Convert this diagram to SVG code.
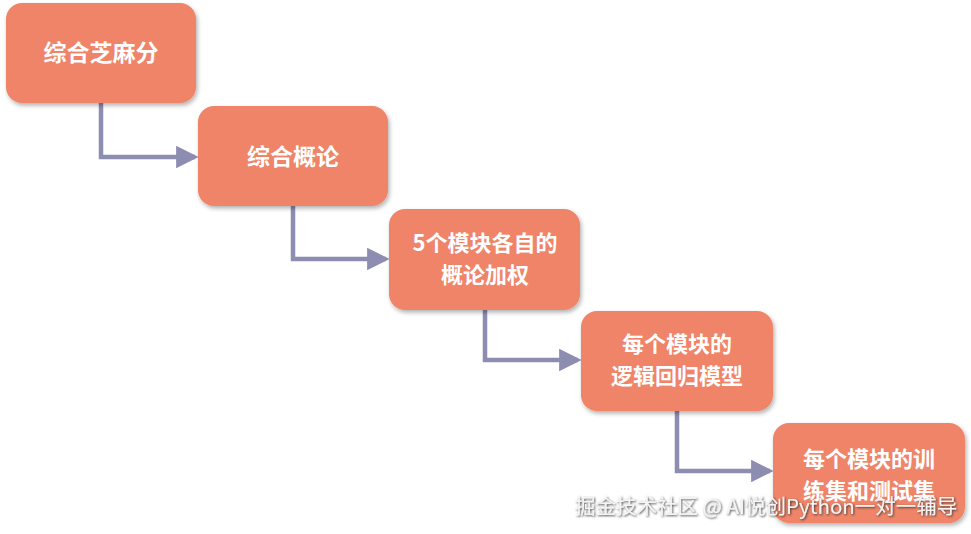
<svg xmlns="http://www.w3.org/2000/svg" width="971" height="534" viewBox="0 0 971 534">
<defs>
<filter id="sh" x="-10%" y="-10%" width="125%" height="130%">
<feDropShadow dx="1.5" dy="2.5" stdDeviation="2" flood-color="#000" flood-opacity="0.3"/>
</filter>
<filter id="tsh" x="-5%" y="-20%" width="110%" height="150%">
<feDropShadow dx="1" dy="1" stdDeviation="0.8" flood-color="#333" flood-opacity="0.9"/>
</filter>
<marker id="arr" markerWidth="5" markerHeight="5" refX="4.2" refY="2.5" orient="auto" markerUnits="strokeWidth">
<path d="M0,0 L5,2.5 L0,5 Z" fill="#8c8db0"/>
</marker>
</defs>
<style>
.box{fill:#ef8467;filter:url(#sh)}
.lbl{fill:#fff;font-family:"Noto Sans CJK SC","Noto Sans",sans-serif;font-size:23px;font-weight:bold;text-anchor:middle}
.l2{font-size:22px}
.con{fill:none;stroke:#8c8db0;stroke-width:4.5;marker-end:url(#arr)}
.wm{fill:#f4f4f4;font-family:"Noto Sans CJK SC","Noto Sans",sans-serif;font-size:20.5px;filter:url(#tsh)}
</style>
<rect width="971" height="534" fill="#fff"/>
<g id="connectors">
<path class="con" d="M101,103 V157 H195"/>
<path class="con" d="M293,206 V259 H386"/>
<path class="con" d="M485,310 V360 H578"/>
<path class="con" d="M677,410 V471 H770"/>
</g>
<g id="n1"><rect class="box" x="6" y="3" width="190" height="100" rx="16"/><text class="lbl" x="101" y="61">综合芝麻分</text></g>
<g id="n2"><rect class="box" x="198" y="106" width="190" height="100" rx="16"/><text class="lbl" x="293" y="165">综合概论</text></g>
<g id="n3"><rect class="box" x="389" y="209" width="191" height="101" rx="16"/><text class="lbl l2"><tspan x="485" y="251">5个模块各自的</tspan><tspan x="485" y="283">概论加权</tspan></text></g>
<g id="n4"><rect class="box" x="581" y="311" width="192" height="100" rx="16"/><text class="lbl l2"><tspan x="677" y="352">每个模块的</tspan><tspan x="677" y="384">逻辑回归模型</tspan></text></g>
<g id="n5"><rect class="box" x="773" y="423" width="192" height="100" rx="16"/><text class="lbl l2"><tspan x="869" y="467">每个模块的训</tspan><tspan x="869" y="499">练集和测试集</tspan></text></g>
<text class="wm" x="575" y="514">掘金技术社区 @ AI悦创Python一对一辅导</text>
</svg>
